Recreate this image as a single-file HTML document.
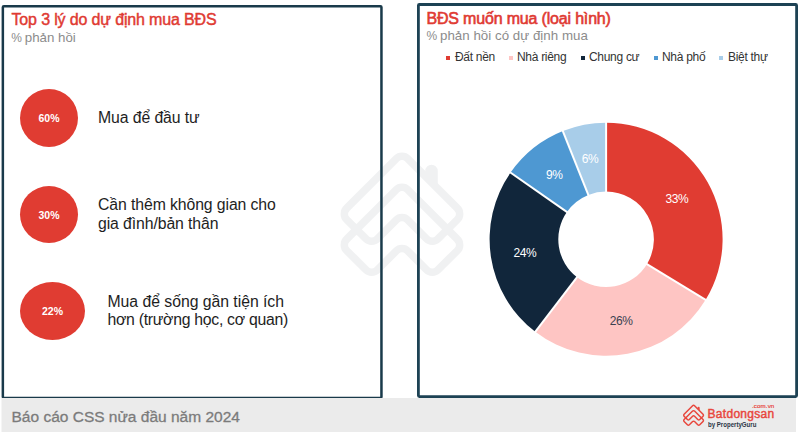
<!DOCTYPE html>
<html><head><meta charset="utf-8">
<style>
*{margin:0;padding:0;box-sizing:border-box}
html,body{width:800px;height:432px;overflow:hidden;background:#fff;font-family:"Liberation Sans",sans-serif}
.abs{position:absolute;white-space:nowrap}
.t{position:absolute;white-space:nowrap;line-height:1}
.circ{position:absolute;background:#e03c32;border-radius:50%;color:#fff;font-weight:bold;font-size:10.5px;display:flex;align-items:center;justify-content:center}
.leg{position:absolute;top:50px;font-size:12px;color:#333;white-space:nowrap;letter-spacing:-0.3px}
.sq{position:absolute;width:4px;height:4px}
.lbl{position:absolute;font-size:12px;letter-spacing:-0.4px;line-height:1;color:#fff;white-space:nowrap;transform:translate(-50%,-50%)}
</style></head><body>
<svg class="abs" style="left:0;top:0" width="800" height="432"><g fill="none" stroke="#f0f1f2" stroke-width="7.5" stroke-linejoin="round" stroke-linecap="round"><path d="M396.34 158.56A8.00 8.00 0 0 1 407.66 158.56L457.33 208.23A8.00 8.00 0 0 1 457.32 219.56L437.96 238.86A8.00 8.00 0 0 1 426.65 238.85L407.66 219.86A8.00 8.00 0 0 0 396.34 219.86L377.35 238.85A8.00 8.00 0 0 1 366.04 238.86L346.68 219.56A8.00 8.00 0 0 1 346.67 208.23Z"/><path d="M396.34 189.56A8.00 8.00 0 0 1 407.66 189.56L457.33 239.23A8.00 8.00 0 0 1 457.32 250.56L437.96 269.86A8.00 8.00 0 0 1 426.65 269.85L407.66 250.86A8.00 8.00 0 0 0 396.34 250.86L377.35 269.85A8.00 8.00 0 0 1 366.04 269.86L346.68 250.56A8.00 8.00 0 0 1 346.67 239.23Z"/><path d="M424.5 172.5 L425.25 171 A6.25 6.25 0 0 1 437.75 171 L437.75 186 Z" stroke="none" fill="#f0f1f2"/></g></svg>
<svg class="abs" style="left:0;top:0" width="800" height="432">
<rect x="2.85" y="6.15" width="378.6" height="391.9" rx="1" fill="none" stroke="#193a4a" stroke-width="2.5"/>
<rect x="418.4" y="4.5" width="378.2" height="392.1" rx="1" fill="none" stroke="#1d4254" stroke-width="2.8"/>
<rect x="1.5" y="398" width="794.5" height="34" fill="#ebebeb"/>
</svg>

<div class="t" style="left:11.5px;top:12.00px;font-size:16px;color:#e03a32;-webkit-text-stroke:0.45px #e03a32;letter-spacing:-0.15px">Top 3 lý do dự định mua BĐS</div>
<div class="t" style="left:11.3px;top:31.20px;font-size:13.3px;color:#8c8c8c;letter-spacing:0px"><span style="font-size:12px;letter-spacing:-0.9px">%</span> phản hồi</div>
<div class="t" style="left:98px;top:110.17px;font-size:15.8px;color:#1e1e1e;letter-spacing:-0.1px">Mua để đầu tư</div>
<div class="t" style="left:98px;top:196.37px;font-size:15.8px;line-height:18.6px;color:#1e1e1e;letter-spacing:-0.1px">Cần thêm không gian cho<br>gia đình/bản thân</div>
<div class="t" style="left:107.5px;top:292.87px;font-size:15.8px;line-height:18.4px;color:#1e1e1e;letter-spacing:-0.1px"><span style="letter-spacing:-0.04px">Mua để sống gần tiện ích</span><br><span style="letter-spacing:-0.28px">hơn (trường học, cơ quan)</span></div>
<div class="t" style="left:426.5px;top:11.00px;font-size:16px;color:#e03a32;-webkit-text-stroke:0.6px #e03a32;letter-spacing:-0.18px">BĐS muốn mua (loại hình)</div>
<div class="t" style="left:426.5px;top:29.30px;font-size:13.3px;color:#8c8c8c;letter-spacing:0.03px"><span style="font-size:12px;letter-spacing:-0.9px">%</span> phản hồi có dự định mua</div>
<div class="t" style="left:11.5px;top:409.02px;font-size:15.5px;color:#7b7b7b;-webkit-text-stroke:0.3px #7b7b7b">Báo cáo CSS nửa đầu năm 2024</div>

<div class="circ" style="left:20px;top:89px;width:58px;height:58px">60%</div>
<div class="circ" style="left:20px;top:186px;width:58px;height:57px">30%</div>
<div class="circ" style="left:20px;top:282px;width:65px;height:58px">22%</div>

<div class="sq" style="left:446px;top:55.8px;background:#e03c32"></div><div class="leg" style="left:455px">Đất nền</div>
<div class="sq" style="left:509px;top:55.8px;background:#fec5c3"></div><div class="leg" style="left:517px">Nhà riêng</div>
<div class="sq" style="left:581px;top:55.8px;background:#11263b"></div><div class="leg" style="left:589px">Chung cư</div>
<div class="sq" style="left:654px;top:55.8px;background:#4e98d2"></div><div class="leg" style="left:662px">Nhà phố</div>
<div class="sq" style="left:719px;top:55.8px;background:#a8cde9"></div><div class="leg" style="left:728px">Biệt thự</div>

<svg class="abs" style="left:0;top:0" width="800" height="432">
<path d="M606.10 122.80A116.5 116.5 0 0 1 705.62 299.86L646.93 264.15A47.8 47.8 0 0 0 606.10 191.50Z" fill="#e03c32"/>
<path d="M705.62 299.86A116.5 116.5 0 0 1 535.28 331.80L577.04 277.25A47.8 47.8 0 0 0 646.93 264.15Z" fill="#fec5c3"/>
<path d="M535.28 331.80A116.5 116.5 0 0 1 510.58 172.61L566.91 211.94A47.8 47.8 0 0 0 577.04 277.25Z" fill="#11263b"/>
<path d="M510.58 172.61A116.5 116.5 0 0 1 562.87 131.12L588.36 194.91A47.8 47.8 0 0 0 566.91 211.94Z" fill="#4e98d2"/>
<path d="M562.87 131.12A116.5 116.5 0 0 1 606.10 122.80L606.10 191.50A47.8 47.8 0 0 0 588.36 194.91Z" fill="#a8cde9"/>
<g stroke="#fff" stroke-width="2"><line x1="606.10" y1="193.50" x2="606.10" y2="120.80"/><line x1="645.23" y1="263.11" x2="707.33" y2="300.90"/><line x1="578.26" y1="275.66" x2="534.06" y2="333.39"/><line x1="568.55" y1="213.08" x2="508.94" y2="171.47"/><line x1="589.11" y1="196.77" x2="562.13" y2="129.26"/></g>
</svg>
<div class="lbl" style="left:676.8px;top:199px">33%</div>
<div class="lbl" style="left:621.1px;top:320.8px;color:#3a4250">26%</div>
<div class="lbl" style="left:524.8px;top:253.2px">24%</div>
<div class="lbl" style="left:554.3px;top:174.5px">9%</div>
<div class="lbl" style="left:590px;top:158.8px">6%</div>

<svg class="abs" style="left:0;top:0" width="800" height="432"><g transform="translate(624.83,378.66) scale(0.171)" fill="none" stroke="#e8473d" stroke-width="8.8" stroke-linejoin="round" stroke-linecap="round"><path d="M396.34 158.56A8.00 8.00 0 0 1 407.66 158.56L457.33 208.23A8.00 8.00 0 0 1 457.32 219.56L437.96 238.86A8.00 8.00 0 0 1 426.65 238.85L407.66 219.86A8.00 8.00 0 0 0 396.34 219.86L377.35 238.85A8.00 8.00 0 0 1 366.04 238.86L346.68 219.56A8.00 8.00 0 0 1 346.67 208.23Z"/><path d="M396.34 189.56A8.00 8.00 0 0 1 407.66 189.56L457.33 239.23A8.00 8.00 0 0 1 457.32 250.56L437.96 269.86A8.00 8.00 0 0 1 426.65 269.85L407.66 250.86A8.00 8.00 0 0 0 396.34 250.86L377.35 269.85A8.00 8.00 0 0 1 366.04 269.86L346.68 250.56A8.00 8.00 0 0 1 346.67 239.23Z"/><path d="M424.5 172.5 L425.25 171 A6.25 6.25 0 0 1 437.75 171 L437.75 186 Z" stroke="none" fill="#e8473d"/></g></svg>
<div class="t" style="left:707.5px;top:408px;font-size:12px;color:#e8473d;-webkit-text-stroke:0.45px #e8473d;letter-spacing:0.3px">Batdongsan</div>
<div class="t" style="left:752px;top:403.2px;font-size:6.2px;color:#e8473d;-webkit-text-stroke:0.2px #e8473d;letter-spacing:0.1px">.com.vn</div>
<div class="t" style="left:707.7px;top:420.6px;font-size:7px;font-weight:bold;color:#2a3545;transform:scaleX(0.87);transform-origin:0 0">by PropertyGuru</div>
</body></html>
